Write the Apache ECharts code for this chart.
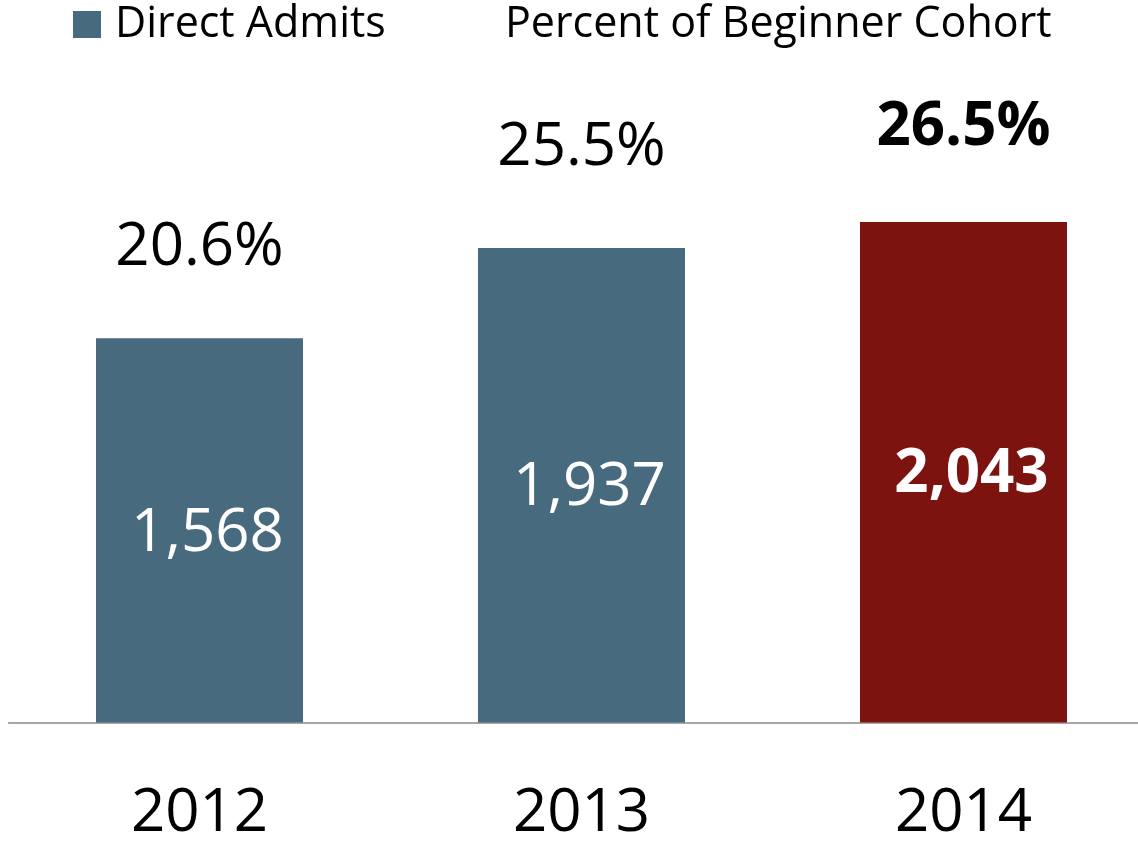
<!DOCTYPE html>
<html>
<head>
<meta charset="utf-8">
<script src="https://cdn.jsdelivr.net/npm/echarts@6/dist/echarts.min.js"></script>
<style>
  html, body { margin: 0; padding: 0; background: #fff; }
  #chart { width: 1138px; height: 841px; }
</style>
</head>
<body>
<div id="chart"></div>
<script>
const years = ['2012', '2013', '2014']
const directAdmits = [1568, 1937, 2043]
const cohortPercent = [20.6, 25.5, 26.5]

const blue = '#476a7e'
const red = '#7d130e'
const font = 'Open Sans'
const lastIdx = years.length - 1 // current year is highlighted

const chart = echarts.init(document.getElementById('chart'))

chart.setOption({
  animation: false,
  textStyle: { fontFamily: font },
  legend: [
    {
      left: 68,
      top: -2,
      itemWidth: 28,
      itemHeight: 27,
      textStyle: { fontSize: 43, color: '#000', padding: [0, 0, 0, 9], lineHeight: 43 },
      data: [{ name: 'Direct Admits', icon: 'rect', itemStyle: { color: blue } }]
    },
    {
      left: 467,
      top: -2,
      itemWidth: 28,
      itemHeight: 27,
      textStyle: { fontSize: 43, color: '#000', lineHeight: 43 },
      data: [{ name: 'Percent of Beginner Cohort', icon: 'rect', itemStyle: { opacity: 0 } }]
    }
  ],
  grid: {
    left: 8.5,
    width: 1146,
    top: 110,
    bottom: 118.5,
    containLabel: false,
    outerBoundsMode: 'none'
  },
  xAxis: {
    type: 'category',
    data: years,
    axisTick: { show: false },
    axisLine: { lineStyle: { color: '#898989', width: 1.5 } },
    axisLabel: { fontSize: 60, color: '#000', margin: 61, lineHeight: 60 }
  },
  yAxis: [
    { type: 'value', min: 0, max: 2500, show: false, splitLine: { show: false } },
    { type: 'value', min: -2.78, max: 27.39, show: false, splitLine: { show: false } }
  ],
  series: [
    {
      name: 'Direct Admits',
      type: 'bar',
      barWidth: 207,
      data: directAdmits.map((v, i) => ({
        value: v,
        itemStyle: { color: i === lastIdx ? red : blue },
        label: { color: '#fff', fontWeight: i === lastIdx ? 'bold' : 'normal' }
      })),
      label: {
        show: true,
        position: 'inside',
        offset: [8, 3],
        fontSize: 60,
        color: '#fff',
        formatter: p => p.value.toLocaleString('en-US')
      }
    },
    {
      name: 'Percent of Beginner Cohort',
      type: 'scatter',
      yAxisIndex: 1,
      symbolSize: 1,
      itemStyle: { color: 'rgba(0,0,0,0)', opacity: 1 },
      data: cohortPercent.map((v, i) => ({
        value: v,
        label: { color: '#000', fontWeight: i === lastIdx ? 'bold' : 'normal' }
      })),
      label: {
        show: true,
        position: 'inside',
        fontSize: 60,
        color: '#000',
        formatter: p => p.value.toFixed(1) + '%'
      }
    }
  ]
})
</script>
</body>
</html>
